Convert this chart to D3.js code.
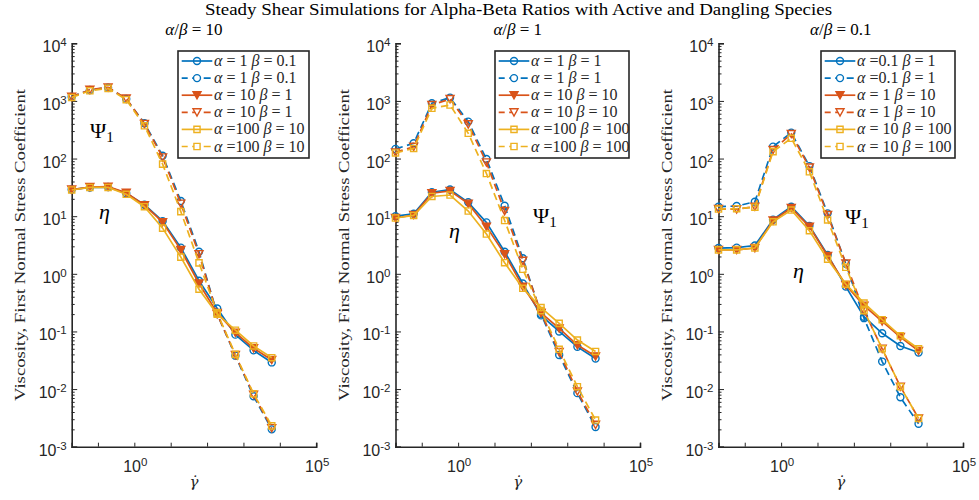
<!DOCTYPE html>
<html><head><meta charset="utf-8">
<script src="https://cdn.jsdelivr.net/npm/d3@7"></script>
<style>body{margin:0;background:#fff}svg{display:block}</style>
</head><body><svg id="c" width="979" height="500"></svg>
<script>
// ---------------- data ----------------
const shearRate = [0.019, 0.06, 0.19, 0.6, 1.9, 6, 19, 60, 190, 600, 1900, 6000];

const panelRatios = ["10", "1", "0.1"];

const legendAlpha = [["= 1", "= 10", "=100"], ["= 1", "= 10", "=100"], ["=0.1", "= 1", "= 10"]];
const legendBeta  = [["= 0.1", "= 1", "= 10"], ["= 1", "= 10", "= 100"], ["= 1", "= 10", "= 100"]];

// alpha/beta = 10
const etaR10Blue   = [29, 31.5, 32, 25, 15.8, 8.2, 2.85, 0.76, 0.25, 0.088, 0.047, 0.029];
const etaR10Red    = [29, 32, 32.5, 25.5, 15.5, 7.9, 2.6, 0.68, 0.21, 0.095, 0.051, 0.032];
const etaR10Yellow = [28.5, 31.5, 31.5, 24, 14.6, 6.2, 1.95, 0.54, 0.2, 0.105, 0.056, 0.035];
const psiR10Blue   = [1180, 1550, 1700, 1080, 410, 112, 18.3, 2.42, 0.2, 0.038, 0.0075, 0.0020];
const psiR10Red    = [1180, 1560, 1720, 1100, 400, 105, 16.5, 2.2, 0.2, 0.039, 0.008, 0.0021];
const psiR10Yellow = [1150, 1500, 1650, 1050, 370, 80, 12, 1.55, 0.21, 0.04, 0.0083, 0.0023];

// alpha/beta = 1
const etaR1Blue    = [10, 11, 26, 29, 17.4, 7.8, 2.42, 0.68, 0.19, 0.1, 0.054, 0.034];
const etaR1Red     = [9.3, 10.5, 25, 27.5, 16.5, 6.6, 2.2, 0.6, 0.21, 0.113, 0.058, 0.037];
const etaR1Yellow  = [9.3, 10.3, 22, 23.3, 12.3, 4.9, 1.56, 0.56, 0.26, 0.138, 0.071, 0.045];
const psiR1Blue    = [147, 184, 912, 1140, 437, 98, 15.2, 1.86, 0.2, 0.039, 0.0085, 0.0022];
const psiR1Red     = [128, 160, 850, 1080, 393, 86, 12.3, 1.69, 0.21, 0.044, 0.0091, 0.0024];
const psiR1Yellow  = [125, 150, 745, 850, 274, 55, 8.4, 1.2, 0.23, 0.049, 0.011, 0.0029];

// alpha/beta = 0.1
const etaR01Blue   = [2.8, 2.85, 3.1, 8.7, 14.6, 6.8, 2.12, 0.6, 0.18, 0.093, 0.056, 0.043];
const etaR01Red    = [2.6, 2.6, 2.8, 8.4, 13.9, 6.6, 2.04, 0.64, 0.28, 0.15, 0.08, 0.046];
const etaR01Yellow = [2.6, 2.6, 2.8, 8.0, 12.8, 5.6, 1.79, 0.66, 0.31, 0.16, 0.084, 0.05];
const psiR01Blue   = [14.6, 15, 17.8, 161, 282, 74, 11.2, 1.5, 0.17, 0.03, 0.0072, 0.0025];
const psiR01Red    = [13.3, 13.2, 14.6, 141, 267, 70, 10.5, 1.52, 0.23, 0.05, 0.011, 0.0031];
const psiR01Yellow = [13.3, 13.5, 14.3, 132, 225, 59, 8.6, 1.3, 0.23, 0.05, 0.011, 0.0031];

const yTickExp = [-3, -2, -1, 0, 1, 2, 3, 4];
const xLabelExp = [0, 5];
const xTickExp = [-1, 0, 1, 2, 3, 4, 5];

// ---------------- layout / style ----------------
const colors = ["#0072BD", "#D95319", "#EDB120"];
const markers = ["circle", "tri", "square"];
const panels = [
  {eta: [etaR10Blue, etaR10Red, etaR10Yellow], psi: [psiR10Blue, psiR10Red, psiR10Yellow],
   left: 71.7, legX: 178, legW: 131, psiLab: [90, 138], etaLab: [99, 219]},
  {eta: [etaR1Blue, etaR1Red, etaR1Yellow], psi: [psiR1Blue, psiR1Red, psiR1Yellow],
   left: 395.5, legX: 495, legW: 134, psiLab: [533, 223], etaLab: [449, 238]},
  {eta: [etaR01Blue, etaR01Red, etaR01Yellow], psi: [psiR01Blue, psiR01Red, psiR01Yellow],
   left: 718.5, legX: 821, legW: 134, psiLab: [845, 224], etaLab: [793, 278]}
];
const W = 244.5, plotTop = 43.3, plotBottom = 446.7;
const axisColor = "#262626";
const serif = "'Liberation Serif', 'DejaVu Serif', serif";
const sans = "'Liberation Sans', Arial, sans-serif";

const svg = d3.select("#c");

svg.append("text").attr("x", 518.5).attr("y", 15).attr("text-anchor", "middle")
  .attr("font-family", serif).attr("font-size", 16).attr("fill", "#000")
  .attr("textLength", 627).attr("lengthAdjust", "spacingAndGlyphs")
  .text("Steady Shear Simulations for Alpha-Beta Ratios with Active and Dangling Species");

function markerPath(type) {
  if (type === "circle") return d3.symbol(d3.symbolCircle, Math.PI * 3.5 * 3.5)();
  if (type === "square") return d3.symbol(d3.symbolSquare, 38)();
  return "M-4,-3.5L4,-3.5L0,3.7Z";
}

panels.forEach((p, pi) => {
  const g = svg.append("g");
  const x = d3.scaleLog().domain([0.019, 1e5]).range([p.left, p.left + W]);
  const y = d3.scaleLog().domain([1e-3, 1e4]).range([plotBottom, plotTop]);

  // subtitle
  const st = g.append("text").attr("x", p.left + W / 2).attr("y", 35).attr("text-anchor", "middle")
    .attr("font-family", serif).attr("font-size", 17).attr("fill", "#000");
  st.append("tspan").attr("font-style", "italic").text("α");
  st.append("tspan").text("/");
  st.append("tspan").attr("font-style", "italic").text("β");
  st.append("tspan").text(" = " + panelRatios[pi]);

  // y label
  g.append("text").attr("transform", `translate(${p.left - 47},245) rotate(-90)`)
    .attr("text-anchor", "middle").attr("font-family", serif).attr("font-size", 15.5)
    .attr("fill", "#262626").attr("textLength", 312).attr("lengthAdjust", "spacingAndGlyphs")
    .text("Viscosity, First Normal Stress Coefficient");

  // x label (gamma dot)
  g.append("text").attr("x", p.left + W / 2).attr("y", 487).attr("text-anchor", "middle")
    .attr("font-family", "'DejaVu Serif', serif").attr("font-size", 15).attr("font-style", "italic")
    .attr("fill", "#262626").text("γ\u0307");

  // axes
  const yMinor = [];
  for (let e = -3; e < 4; e++) for (let m = 2; m <= 9; m++) yMinor.push(m * Math.pow(10, e));
  const yAxisMinor = d3.axisLeft(y).tickValues(yMinor).tickSize(-3).tickFormat("");
  const yAxisMajor = d3.axisLeft(y).tickValues(yTickExp.map(e => Math.pow(10, e))).tickSize(-5.5).tickFormat("");
  const xAxis = d3.axisBottom(x).tickValues(xTickExp.map(e => Math.pow(10, e))).tickSize(-4).tickFormat("");

  const gy1 = g.append("g").attr("transform", `translate(${p.left},0)`).call(yAxisMinor);
  const gy2 = g.append("g").attr("transform", `translate(${p.left},0)`).call(yAxisMajor);
  const gx = g.append("g").attr("transform", `translate(0,${plotBottom})`).call(xAxis);
  [gy1, gy2, gx].forEach(a => {
    a.selectAll("path.domain").attr("stroke", axisColor).attr("stroke-width", 1.6);
    a.selectAll(".tick line").attr("stroke", axisColor).attr("stroke-width", 1);
  });
  gy1.select("path.domain").remove();

  // tick labels
  yTickExp.forEach(e => {
    const t = g.append("text").attr("x", p.left - 5).attr("y", y(Math.pow(10, e)) + 9)
      .attr("text-anchor", "end").attr("font-family", sans).attr("font-size", 16).attr("fill", axisColor);
    t.append("tspan").text("10");
    t.append("tspan").attr("font-size", 11.5).attr("dy", -6).text(String(e));
  });
  xLabelExp.forEach(e => {
    const t = g.append("text").attr("x", x(Math.pow(10, e)) + 1).attr("y", 472)
      .attr("text-anchor", "middle").attr("font-family", sans).attr("font-size", 16).attr("fill", axisColor);
    t.append("tspan").text("10");
    t.append("tspan").attr("font-size", 11.5).attr("dy", -6).text(String(e));
  });

  // series
  const line = d3.line().x((d, i) => x(shearRate[i])).y(d => y(d));
  for (let s = 0; s < 3; s++) {
    [["eta", false], ["psi", true]].forEach(([key, dashed]) => {
      const vals = p[key][s];
      g.append("path").datum(vals).attr("d", line).attr("fill", "none")
        .attr("stroke", colors[s]).attr("stroke-width", 1.7)
        .attr("stroke-dasharray", dashed ? "7.5,4.5" : null);
      g.selectAll(null).data(vals).enter().append("path")
        .attr("d", markerPath(markers[s]))
        .attr("transform", (d, i) => `translate(${x(shearRate[i])},${y(d)})`)
        .attr("fill", (!dashed && s === 1) ? colors[s] : "none")
        .attr("stroke", colors[s]).attr("stroke-width", 1.4);
    });
  }

  // annotations
  const ps = g.append("text").attr("x", p.psiLab[0]).attr("y", p.psiLab[1])
    .attr("font-family", serif).attr("font-size", 22).attr("fill", "#000");
  ps.append("tspan").text("Ψ");
  ps.append("tspan").attr("font-size", 15).attr("dy", 4).text("1");
  g.append("text").attr("x", p.etaLab[0]).attr("y", p.etaLab[1])
    .attr("font-family", serif).attr("font-size", 22).attr("font-style", "italic").attr("fill", "#000").text("η");

  // legend
  const lg = g.append("g").attr("transform", `translate(${p.legX},51)`);
  lg.append("rect").attr("width", p.legW).attr("height", 107).attr("fill", "#fff")
    .attr("stroke", "#262626").attr("stroke-width", 1.6);
  for (let s = 0; s < 3; s++) {
    [false, true].forEach((dashed, k) => {
      const row = s * 2 + k;
      const ry = 10 + row * 17.1;
      lg.append("line").attr("x1", 3.7).attr("x2", 34.3).attr("y1", ry).attr("y2", ry)
        .attr("stroke", colors[s]).attr("stroke-width", 1.7)
        .attr("stroke-dasharray", dashed ? "7,4.5" : null)
        .attr("stroke-dashoffset", dashed ? 1 : null);
      lg.append("path").attr("d", markerPath(markers[s])).attr("transform", `translate(19,${ry})`)
        .attr("fill", (!dashed && s === 1) ? colors[s] : (dashed ? "#fff" : "none"))
        .attr("stroke", colors[s]).attr("stroke-width", 1.4);
      const t = lg.append("text").attr("x", 36).attr("y", ry + 5)
        .attr("font-family", serif).attr("font-size", 16).attr("fill", "#262626");
      t.append("tspan").attr("font-style", "italic").text("α");
      t.append("tspan").text(" " + legendAlpha[pi][s] + " ");
      t.append("tspan").attr("font-style", "italic").text("β");
      t.append("tspan").text(" " + legendBeta[pi][s]);
    });
  }
});
</script></body></html>
